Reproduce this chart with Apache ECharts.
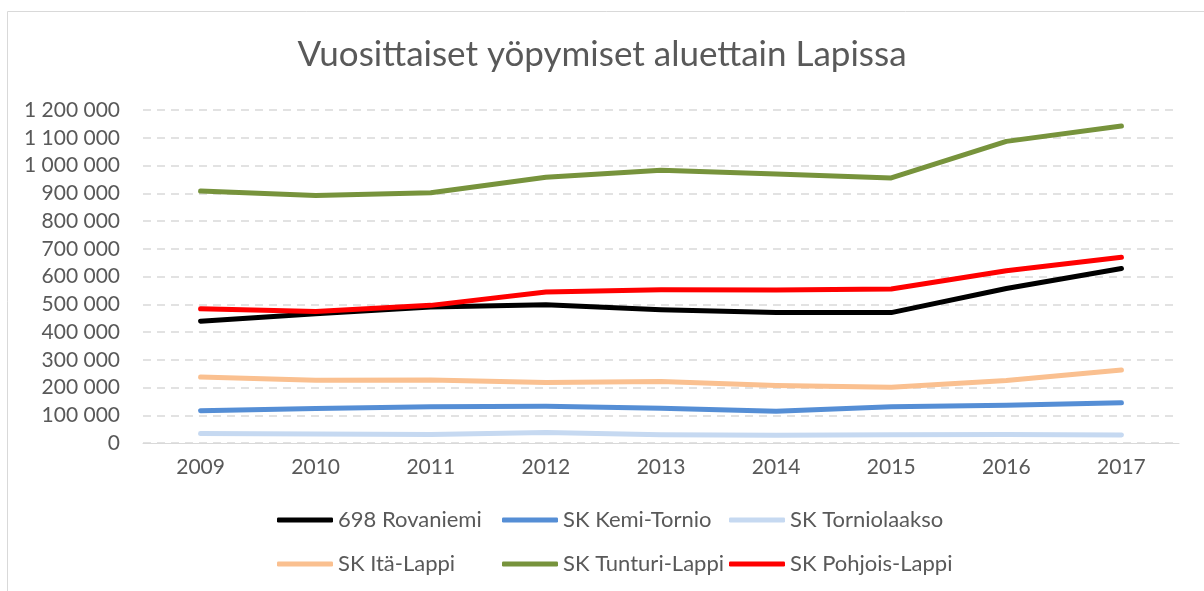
<!DOCTYPE html>
<html>
<head>
<meta charset="utf-8">
<script src="https://cdn.jsdelivr.net/npm/echarts@6/dist/echarts.min.js"></script>
<style>
  html, body { margin: 0; padding: 0; background: #fff; }
  #chart { width: 1204px; height: 591px; }
</style>
</head>
<body>
<div id="chart"></div>
<script>
const years = ['2009', '2010', '2011', '2012', '2013', '2014', '2015', '2016', '2017']
const rovaniemi = [439000, 466000, 490000, 498000, 480000, 470000, 470000, 557000, 629000]
const kemiTornio = [116000, 124000, 131000, 132000, 125000, 114000, 131000, 136000, 145000]
const tornionlaakso = [34000, 32000, 31000, 38000, 30000, 28000, 30000, 31000, 29000]
const itaLappi = [238000, 226000, 227000, 218000, 222000, 207000, 201000, 225000, 263000]
const tunturiLappi = [908000, 892000, 902000, 958000, 983000, 969000, 955000, 1087000, 1142000]
const pohjoisLappi = [484000, 474000, 496000, 544000, 552000, 551000, 555000, 621000, 669000]

const seriesNames = ['698 Rovaniemi', 'SK Kemi-Tornio', 'SK Torniolaakso', 'SK Itä-Lappi', 'SK Tunturi-Lappi', 'SK Pohjois-Lappi']
const seriesData = [rovaniemi, kemiTornio, tornionlaakso, itaLappi, tunturiLappi, pohjoisLappi]
const colors = ['#000000', '#558ED5', '#C6D9F1', '#FAC090', '#77933C', '#FF0000']

const font = 'Lato, "Open Sans", sans-serif'
// legend laid out as a 3x2 grid like the original
const legendPos = [
  { left: 277, top: 509 }, { left: 502, top: 509 }, { left: 729, top: 509 },
  { left: 277, top: 553 }, { left: 502, top: 553 }, { left: 729, top: 553 }
]

const chart = echarts.init(document.getElementById('chart'))
chart.setOption({
  animation: false,
  title: {
    text: 'Vuosittaiset yöpymiset aluettain Lapissa',
    left: 'center',
    top: 37,
    padding: 0,
    textStyle: { fontFamily: font, fontSize: 35, fontWeight: 'normal', color: '#595959' }
  },
  graphic: [{
    type: 'rect',
    shape: { x: 7.5, y: 11.5, width: 1300, height: 700 },
    style: { fill: 'none', stroke: '#d9d9d9', lineWidth: 1 }
  }],
  legend: seriesNames.map((name, i) => ({
    data: [name],
    left: legendPos[i].left,
    top: legendPos[i].top,
    padding: 0,
    itemWidth: 56,
    itemHeight: 5,
    itemGap: 0,
    icon: 'roundRect',
    textStyle: { fontFamily: font, fontSize: 22, color: '#595959' }
  })),
  grid: { left: 143, right: 25, top: 110, bottom: 148 },
  xAxis: {
    type: 'category',
    data: years,
    boundaryGap: true,
    axisLine: { lineStyle: { color: '#d9d9d9', width: 1 } },
    axisTick: { alignWithLabel: true, length: 6, lineStyle: { color: '#d9d9d9' } },
    axisLabel: { fontFamily: font, fontSize: 21, color: '#595959', margin: 14 }
  },
  yAxis: {
    type: 'value',
    min: 0,
    max: 1200000,
    interval: 100000,
    axisLine: { show: false },
    axisTick: { show: false },
    axisLabel: {
      fontFamily: font, fontSize: 21, color: '#595959', margin: 23,
      formatter: v => String(v).replace(/\B(?=(\d{3})+(?!\d))/g, ' ')
    },
    splitLine: { lineStyle: { color: '#d9d9d9', type: [8, 6], width: 1.5 } }
  },
  series: seriesNames.map((name, i) => ({
    name,
    type: 'line',
    data: seriesData[i],
    symbol: 'none',
    lineStyle: { color: colors[i], width: 5, cap: 'round', join: 'round' },
    itemStyle: { color: colors[i] }
  }))
})
</script>
</body>
</html>
